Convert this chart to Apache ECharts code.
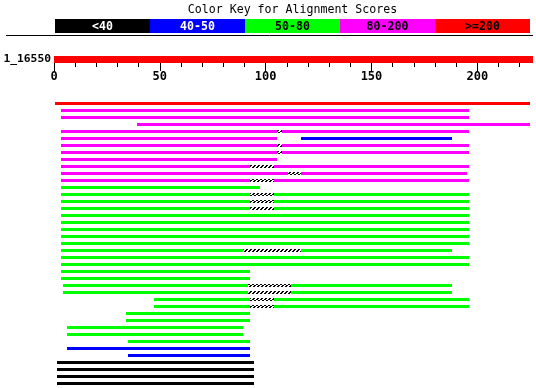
<!DOCTYPE html>
<html>
<head>
<meta charset="utf-8">
<script src="https://cdn.jsdelivr.net/npm/echarts@6/dist/echarts.min.js"></script>
<style>
html,body{margin:0;padding:0;background:#fff;}
#chart{width:536px;height:388px;}
</style>
</head>
<body>
<div id="chart"></div>
<script>
// ---- data ----
var titleText = 'Color Key for Alignment Scores';
var keyLabels = ['<40', '40-50', '50-80', '80-200', '>=200'];
var queryName = '1_16550';
var queryLength = 226.5;
var tickValues = [0, 50, 100, 150, 200];

// hits: [row, start, end]
var redHits = [[0, 0.5, 224.9]];
var magentaHits = [
  [1, 3.3, 196.1], [2, 3.3, 196.1], [3, 39.2, 224.9],
  [4, 3.3, 105.2], [4, 107.7, 196.1],
  [5, 3.3, 105.2],
  [6, 3.3, 105.2], [6, 107.7, 196.1],
  [7, 3.3, 105.2], [7, 107.7, 196.1],
  [8, 3.3, 105.2],
  [9, 3.3, 92.6], [9, 103.9, 196.1],
  [10, 3.3, 110.7], [10, 116.7, 195.1],
  [11, 3.3, 92.6], [11, 103.9, 196.1]
];
var greenHits = [
  [12, 3.3, 97.3],
  [13, 3.3, 92.6], [13, 103.9, 196.1],
  [14, 3.3, 92.6], [14, 103.9, 196.1],
  [15, 3.3, 92.6], [15, 103.9, 196.1],
  [16, 3.3, 196.1], [17, 3.3, 196.1], [18, 3.3, 196.1], [19, 3.3, 196.1], [20, 3.3, 196.1],
  [21, 3.3, 89.4], [21, 116.7, 188.0],
  [22, 3.3, 196.1], [23, 3.3, 196.1],
  [24, 3.3, 92.6], [25, 3.3, 92.6],
  [26, 4.3, 91.7], [26, 112.0, 188.0],
  [27, 4.3, 91.7], [27, 112.0, 188.0],
  [28, 47.2, 92.6], [28, 103.9, 196.1],
  [29, 47.2, 92.6], [29, 103.9, 196.1],
  [30, 34.0, 92.6], [31, 34.0, 92.6],
  [32, 6.1, 89.4], [33, 6.1, 89.4],
  [34, 35.0, 92.6]
];
var blueHits = [[5, 116.7, 188.0], [35, 6.1, 92.6], [36, 35.0, 92.6]];
var blackHits = [[37, 1.4, 94.5], [38, 1.4, 94.5], [39, 1.4, 94.5], [40, 1.4, 94.5]];
var gapSegments = [
  [4, 105.2, 107.7], [6, 105.2, 107.7], [7, 105.2, 107.7],
  [9, 92.6, 103.9], [10, 110.7, 116.7], [11, 92.6, 103.9],
  [13, 92.6, 103.9], [14, 92.6, 103.9], [15, 92.6, 103.9],
  [21, 89.4, 116.7],
  [26, 91.7, 112.0], [27, 91.7, 112.0],
  [28, 92.6, 103.9], [29, 92.6, 103.9]
];
var rowCount = 41;

// ---- styles ----
var keyColors = ['#000000', '#0000ff', '#00ff00', '#ff00ff', '#ff0000'];
var keyTextColors = ['#ffffff', '#ffffff', '#000000', '#000000', '#000000'];
var FONT = '"DejaVu Sans Mono", "Liberation Mono", monospace';

// hatch pattern
var pc = document.createElement('canvas');
pc.width = 4; pc.height = 3;
var pctx = pc.getContext('2d');
pctx.fillStyle = '#fff'; pctx.fillRect(0, 0, 4, 3);
pctx.fillStyle = '#000';
pctx.fillRect(2, 0, 2, 1);
pctx.fillRect(1, 1, 2, 1);
pctx.fillRect(0, 2, 2, 1);
var hatchFill = { image: pc, repeat: 'repeat' };

function hitRender(fill) {
  return function (params, api) {
    var r = api.value(0);
    var s = api.coord([api.value(1), r]);
    var e = api.coord([api.value(2), r]);
    var x0 = Math.round(s[0]), x1 = Math.round(e[0]);
    var y0 = Math.round(s[1] - 1.5);
    return { type: 'rect', shape: { x: x0, y: y0, width: x1 - x0, height: 3 }, style: { fill: fill } };
  };
}
function hitSeries(data, fill) {
  return {
    type: 'custom', xAxisIndex: 1, yAxisIndex: 1, data: data,
    encode: { x: [1, 2], y: 0 }, renderItem: hitRender(fill), silent: true, clip: false
  };
}

// color key graphic
var keyX = 55, keyW = 95, keyY = 19, keyH = 14;
var graphics = [
  { type: 'text', x: keyX + keyW * keyLabels.length / 2, y: 10, style: { text: titleText, font: '11.6px ' + FONT, fill: '#000', align: 'center', verticalAlign: 'middle' } },
  { type: 'line', shape: { x1: 6, y1: 35.5, x2: 533, y2: 35.5 }, style: { stroke: '#000', lineWidth: 1 } }
];
keyLabels.forEach(function (lab, i) {
  graphics.push({ type: 'rect', shape: { x: keyX + i * keyW, y: keyY, width: keyW, height: keyH }, style: { fill: keyColors[i] } });
  graphics.push({ type: 'text', x: keyX + i * keyW + keyW / 2, y: keyY + keyH / 2 + 0.5, style: { text: lab, font: 'bold 11.6px ' + FONT, fill: keyTextColors[i], align: 'center', verticalAlign: 'middle' } });
});

var pxPerUnit = 2.1165;
var axisMax = 250;
var chart = echarts.init(document.getElementById('chart'), null, { renderer: 'canvas' });
chart.setOption({
  backgroundColor: '#ffffff',
  animation: false,
  graphic: graphics,
  grid: [
    { left: 54, top: 56, width: axisMax * pxPerUnit, height: 7, outerBoundsMode: 'none', containLabel: false },
    { left: 54, top: 100, width: axisMax * pxPerUnit, height: rowCount * 7, outerBoundsMode: 'none', containLabel: false }
  ],
  xAxis: [
    {
      gridIndex: 0, type: 'value', min: 0, max: axisMax, interval: 50, position: 'bottom',
      axisLine: { show: false },
      axisTick: { show: true, length: 8, lineStyle: { color: '#000', width: 1 } },
      minorTick: { show: true, splitNumber: 5, length: 4, lineStyle: { color: '#000', width: 1 } },
      splitLine: { show: false }, minorSplitLine: { show: false },
      axisLabel: {
        margin: 7, color: '#000', fontFamily: FONT, fontWeight: 'bold', fontSize: 12, lineHeight: 14,
        formatter: function (v) { return tickValues.indexOf(v) >= 0 ? String(v) : ''; }
      }
    },
    {
      gridIndex: 1, type: 'value', min: 0, max: axisMax, show: false, splitLine: { show: false }
    }
  ],
  yAxis: [
    {
      gridIndex: 0, type: 'category', data: [queryName],
      axisLine: { show: false }, axisTick: { show: false },
      axisLabel: { margin: 3, color: '#000', fontFamily: FONT, fontWeight: 'bold', fontSize: 11.3 }
    },
    {
      gridIndex: 1, type: 'value', min: -0.5, max: rowCount - 0.5, inverse: true, show: false, splitLine: { show: false }
    }
  ],
  series: [
    {
      type: 'custom', xAxisIndex: 0, yAxisIndex: 0,
      data: [[0, queryLength, queryName]],
      encode: { x: [0, 1], y: 2 }, silent: true, clip: false,
      renderItem: function (params, api) {
        var s = api.coord([api.value(0), 0]);
        var e = api.coord([api.value(1), 0]);
        var h = api.size([0, 1])[1];
        return { type: 'rect', shape: { x: Math.round(s[0]), y: Math.round(s[1] - h / 2), width: Math.round(e[0]) - Math.round(s[0]), height: Math.round(h) }, style: { fill: '#ff0000' } };
      }
    },
    hitSeries(redHits, '#ff0000'),
    hitSeries(magentaHits, '#ff00ff'),
    hitSeries(greenHits, '#00ff00'),
    hitSeries(blueHits, '#0000ff'),
    hitSeries(blackHits, '#000000'),
    hitSeries(gapSegments, hatchFill)
  ]
});
</script>
</body>
</html>
